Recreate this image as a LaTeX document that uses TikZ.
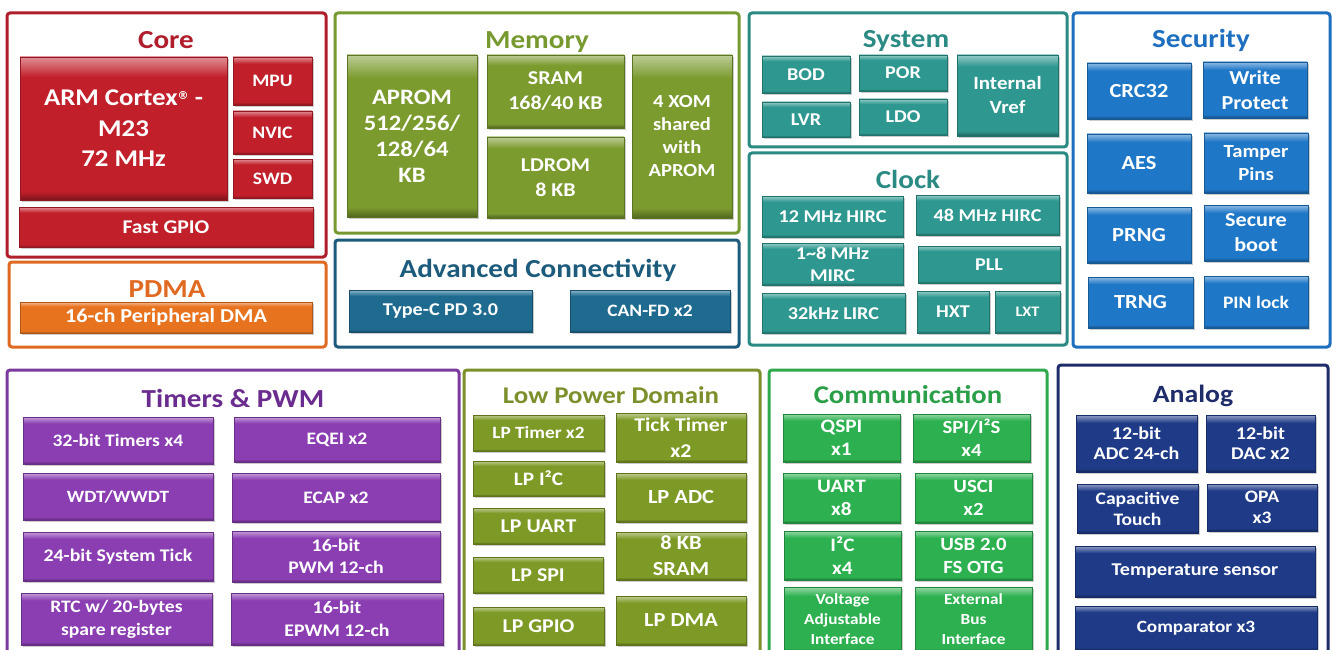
\documentclass[tikz,border=0pt]{standalone}
\usepackage{fontspec}
\setmainfont{Carlito}[FakeStretch=1.12]
\newfontfamily\dvsans{DejaVu Sans}
\usetikzlibrary{shadows}
\colorlet{bvlight}{white}\colorlet{bvbase}{gray}\colorlet{bvdark}{black}
\pgfdeclareverticalshading[bvlight,bvbase,bvdark]{bevel}{100bp}{color(0bp)=(bvdark); color(25bp)=(bvdark); color(28bp)=(bvbase); color(68bp)=(bvbase); color(75bp)=(bvlight); color(100bp)=(bvlight)}
\definecolor{cRed}{HTML}{C1202B}
\definecolor{cRedF}{HTML}{B01E2C}
\definecolor{cOra}{HTML}{E8731F}
\definecolor{cOraF}{HTML}{E06A22}
\definecolor{cOli}{HTML}{7C9B2F}
\definecolor{cOliF}{HTML}{779A30}
\definecolor{cAdv}{HTML}{1F6B90}
\definecolor{cAdvF}{HTML}{1D5B7C}
\definecolor{cTea}{HTML}{2E9890}
\definecolor{cTeaF}{HTML}{2B8A84}
\definecolor{cSec}{HTML}{1F77C7}
\definecolor{cSecF}{HTML}{1E6FBF}
\definecolor{cPur}{HTML}{8A3EB2}
\definecolor{cPurF}{HTML}{7A3A9E}
\definecolor{cPurT}{HTML}{6A2C8E}
\definecolor{cLp}{HTML}{7E9A26}
\definecolor{cLpF}{HTML}{7B8F2A}
\definecolor{cGrn}{HTML}{2DB150}
\definecolor{cGrnF}{HTML}{2EAA4D}
\definecolor{cGrnT}{HTML}{2A9F48}
\definecolor{cNav}{HTML}{1F3B88}
\definecolor{cNavF}{HTML}{1F2C6A}
\tikzset{
  frm/.style={draw=#1, line width=3pt, rounded corners=3pt, fill=white, inner sep=0pt},
  fs/.style 2 args={font=\bfseries\fontsize{#1}{#2}\selectfont},
  ttl/.style={text=#1, fs={26}{30}, inner sep=0pt, anchor=base},
  bx/.style={/utils/exec={\colorlet{bvbase}{#1}\colorlet{bvlight}{#1!50!white}\colorlet{bvdark}{#1!65!black}},
    shade, shading=bevel, draw=#1!75!black, line width=0.5pt, text=white,
    fs={18}{22}, align=center, inner sep=0pt,
    drop shadow={opacity=0.4, shadow xshift=1.5pt, shadow yshift=-2pt}},
}
\newcommand\Bx[7][]{\node[bx=#7, minimum width={(#4-#2)*1pt}, minimum height={(#5-#3)*1pt}, #1] (#2#3) at ({(#2+#4)/2},{(#3+#5)/2}) {#6};}
\newcommand\Fr[6]{\node[frm=#6, minimum width={(#4-#2)*1pt}, minimum height={(#5-#3)*1pt}] (#1) at ({(#2+#4)/2},{(#3+#5)/2}) {};}
\begin{document}
\begin{tikzpicture}[x=1pt,y=-1pt]
\fill[white] (0,0) rectangle (1333,650);
\useasboundingbox (0,0) rectangle (1333,650);
\clip (0,0) rectangle (1333,650);
% ---------- Core
\Fr{core}{7}{13}{326}{257}{cRedF}
\node[ttl=cRedF] (tcore) at (166,49) {Core};
\Bx[fs={24}{30.5}]{20}{57}{227}{200}{ARM Cortex{\dvsans\fontsize{11}{11}\selectfont\raisebox{0.62em}{®}} -\\M23\\72 MHz}{cRed}
\Bx[fs={17.5}{22}]{233}{57}{312}{105}{MPU}{cRed}
\Bx[fs={17.5}{22}]{233}{111}{312}{154}{NVIC}{cRed}
\Bx[fs={17.5}{22}]{233}{159}{312}{198}{SWD}{cRed}
\Bx[fs={19.4}{22}]{19}{207}{313}{247}{Fast GPIO}{cRed}
% ---------- PDMA
\Fr{pdma}{9}{262}{326}{347}{cOraF}
\node[ttl=cOraF] (tpdma) at (167,297) {PDMA};
\Bx[fs={19.8}{22}]{20}{302}{312}{333}{16-ch Peripheral DMA}{cOra}
% ---------- Memory
\Fr{mem}{335}{13}{739}{233}{cOliF}
\node[ttl=cOliF] (tmem) at (537,49) {Memory};
\Bx[fs={22}{26}]{347}{55}{477}{217}{APROM\\512/256/\\128/64\\KB}{cOli}
\Bx[fs={19.6}{25}]{487}{55}{624}{128}{SRAM\\168/40 KB}{cOli}
\Bx[fs={19.6}{25}]{487}{137}{624}{218}{LDROM\\8 KB}{cOli}
\Bx[fs={18.4}{23}]{632}{55}{732}{218}{4 XOM\\shared\\with\\APROM}{cOli}
% ---------- Advanced connectivity
\Fr{adv}{335}{240}{739}{347}{cAdvF}
\node[ttl=cAdvF] (tadv) at (538,277) {Advanced Connectivity};
\Bx{349}{290}{532}{332}{Type-C PD 3.0}{cAdv}
\Bx[fs={17.4}{22}]{570}{290}{730}{332}{CAN-FD x2}{cAdv}
% ---------- System
\Fr{sys}{749}{13}{1067}{147}{cTeaF}
\node[ttl=cTeaF] (tsys) at (906,48) {System};
\Bx{762}{56}{850}{93}{BOD}{cTea}
\Bx{859}{55}{947}{91}{POR}{cTea}
\Bx{762}{102}{850}{137}{LVR}{cTea}
\Bx{859}{99}{947}{135}{LDO}{cTea}
\Bx[fs={18.7}{24}]{957}{55}{1058}{136}{Internal\\Vref}{cTea}
% ---------- Clock
\Fr{clk}{749}{153}{1067}{345}{cTeaF}
\node[ttl=cTeaF] (tclk) at (908,188) {Clock};
\Bx{762}{196}{903}{237}{12 MHz HIRC}{cTea}
\Bx{916}{195}{1059}{235}{48 MHz HIRC}{cTea}
\Bx[fs={18}{22}]{762}{243}{903}{285}{1\textasciitilde8 MHz\\MIRC}{cTea}
\Bx{918}{246}{1060}{283}{PLL}{cTea}
\Bx{762}{293}{905}{333}{32kHz LIRC}{cTea}
\Bx{917}{291}{989}{333}{HXT}{cTea}
\Bx[fs={14.5}{18}]{995}{291}{1060}{333}{LXT}{cTea}
% ---------- Security
\Fr{sec}{1073}{13}{1330}{347}{cSecF}
\node[ttl=cSecF] (tsec) at (1201,48) {Security};
\Bx[fs={20}{25}]{1087}{63}{1191}{119}{CRC32}{cSec}
\Bx[fs={19.8}{25}]{1203}{62}{1307}{118}{Write\\Protect}{cSec}
\Bx[fs={20}{25}]{1087}{134}{1191}{193}{AES}{cSec}
\Bx[fs={18.5}{23}]{1204}{133}{1308}{193}{Tamper\\Pins}{cSec}
\Bx[fs={20}{25}]{1087}{207}{1191}{263}{PRNG}{cSec}
\Bx[fs={19.8}{25}]{1204}{205}{1308}{261}{Secure\\boot}{cSec}
\Bx[fs={20}{25}]{1088}{277}{1193}{328}{TRNG}{cSec}
\Bx[fs={17.5}{23}]{1204}{276}{1308}{328}{PIN lock}{cSec}
% ---------- Timers & PWM
\Fr{tim}{7}{370}{459}{670}{cPurF}
\node[ttl=cPurT] (ttim) at (233,407) {Timers \& PWM};
\Bx[fs={17.5}{22}]{23}{417}{213}{464}{32-bit Timers x4}{cPur}
\Bx[fs={17.5}{22}]{234}{417}{440}{462}{EQEI x2}{cPur}
\Bx[fs={17.2}{22}]{23}{473}{213}{520}{WDT/WWDT}{cPur}
\Bx[fs={17.5}{22}]{232}{473}{440}{522}{ECAP x2}{cPur}
\Bx[fs={17.7}{22}]{23}{532}{213}{581}{24-bit System Tick}{cPur}
\Bx[fs={17.7}{22}]{232}{531}{440}{582}{16-bit\\PWM 12-ch}{cPur}
\Bx[fs={17.5}{23}]{21}{593}{212}{645}{RTC w/ 20-bytes\\spare register}{cPur}
\Bx[fs={17.7}{23}]{231}{593}{443}{645}{16-bit\\EPWM 12-ch}{cPur}
% ---------- Low power domain
\Fr{lpd}{464}{370}{760}{670}{cLpF}
\node[ttl=cLpF, fs={24}{28}] (tlpd) at (611,403) {Low Power Domain};
\Bx[fs={17.2}{22}]{473}{415}{604}{451}{LP Timer x2}{cLp}
\Bx[fs={19.5}{26}]{616}{413}{746}{462}{Tick Timer\\x2}{cLp}
\Bx[fs={19}{22}]{473}{461}{604}{496}{LP I²C}{cLp}
\Bx[fs={20}{24}]{616}{473}{746}{522}{LP ADC}{cLp}
\Bx[fs={19.5}{24}]{473}{508}{604}{544}{LP UART}{cLp}
\Bx[fs={20}{26}]{616}{532}{746}{580}{8 KB\\SRAM}{cLp}
\Bx[fs={19.5}{24}]{473}{557}{603}{593}{LP SPI}{cLp}
\Bx[fs={19.5}{24}]{473}{607}{604}{645}{LP GPIO}{cLp}
\Bx[fs={20}{24}]{616}{596}{746}{645}{LP DMA}{cLp}
% ---------- Communication
\Fr{com}{769}{370}{1047}{670}{cGrnF}
\node[ttl=cGrnT, fs={25.6}{28}] (tcom) at (908,403) {Communication};
\Bx[fs={19}{23}]{783}{414}{900}{462}{QSPI\\x1}{cGrn}
\Bx[fs={18.6}{23}]{913}{414}{1030}{462}{SPI/I²S\\x4}{cGrn}
\Bx[fs={19}{23}]{783}{473}{900}{523}{UART\\x8}{cGrn}
\Bx[fs={18.6}{23}]{915}{473}{1032}{523}{USCI\\x2}{cGrn}
\Bx[fs={19}{23}]{784}{531}{901}{580}{I²C\\x4}{cGrn}
\Bx[fs={18.6}{23}]{915}{531}{1032}{580}{USB 2.0\\FS OTG}{cGrn}
\Bx[fs={15.4}{20}]{784}{587}{901}{652}{Voltage\\Adjustable\\Interface}{cGrn}
\Bx[fs={15.4}{20}]{915}{587}{1032}{652}{External\\Bus\\Interface}{cGrn}
% ---------- Analog
\Fr{ana}{1058}{365}{1328}{670}{cNavF}
\node[ttl=cNavF, fs={24.8}{28}] (tana) at (1193,402) {Analog};
\Bx[fs={17.9}{20}]{1076}{415}{1197}{472}{12-bit\\ADC 24-ch}{cNav}
\Bx[fs={17.9}{20}]{1206}{415}{1315}{472}{12-bit\\DAC x2}{cNav}
\Bx[fs={17.5}{21}]{1077}{484}{1198}{533}{Capacitive\\Touch}{cNav}
\Bx[fs={17.5}{21}]{1207}{484}{1317}{531}{OPA\\x3}{cNav}
\Bx[fs={18}{22}]{1075}{546}{1315}{597}{Temperature sensor}{cNav}
\Bx[fs={17.2}{22}]{1075}{606}{1317}{650}{Comparator x3}{cNav}
\end{tikzpicture}
\end{document}
